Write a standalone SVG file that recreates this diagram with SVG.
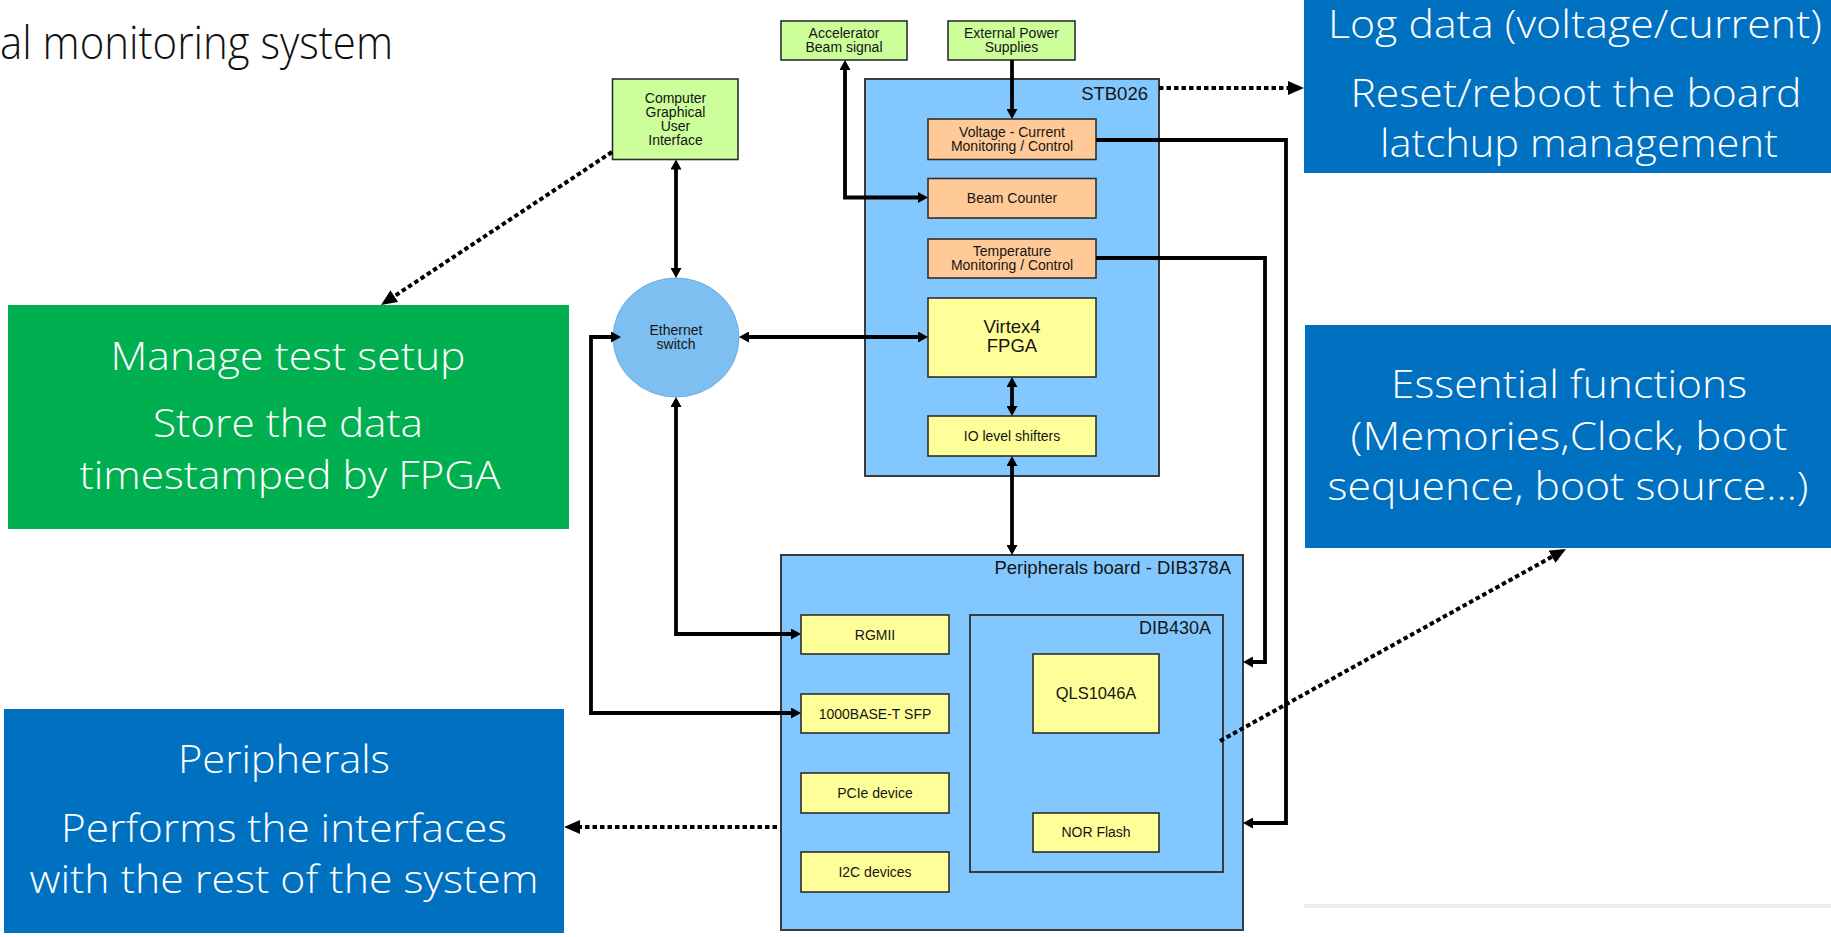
<svg xmlns="http://www.w3.org/2000/svg" width="1831" height="937" viewBox="0 0 1831 937">
  <style>
    .lbl { font-family: "Liberation Sans", Arial, sans-serif; font-size: 14px; fill: #151515; text-anchor: middle; }
    .hdr { font-family: "Liberation Sans", Arial, sans-serif; font-size: 18.5px; fill: #151515; text-anchor: end; }
    .big { font-family: "Liberation Sans", Arial, sans-serif; font-size: 18.5px; fill: #151515; text-anchor: middle; }
    .call { font-family: "Open Sans", "Liberation Sans", sans-serif; font-weight: 300; font-size: 39px; fill: #fff; text-anchor: middle; }
    .title { font-family: "Open Sans", "Liberation Sans", sans-serif; font-weight: 300; font-size: 46px; fill: #111; }
    .board { fill: #82C8FF; stroke: #3a3a3a; stroke-width: 2; }
    .sub { fill: #82C8FF; stroke: #2e2e2e; stroke-width: 1.8; }
    .yel { fill: #FFFF99; stroke: #2e2e2e; stroke-width: 1.6; }
    .org { fill: #FFCA97; stroke: #2e2e2e; stroke-width: 1.6; }
    .ext { fill: #CCFF99; stroke: #2e2e2e; stroke-width: 1.6; }
    .wire { fill: none; stroke: #000; stroke-width: 3.8; stroke-linejoin: miter; }
    .dot { fill: none; stroke: #000; stroke-width: 4; stroke-dasharray: 4.5 3; }
  </style>
  <defs>
    <marker id="ah" markerUnits="userSpaceOnUse" markerWidth="10" markerHeight="11" refX="6" refY="5.5" orient="auto-start-reverse">
      <path d="M0,0 L10,5.5 L0,11 z" fill="#000"/>
    </marker>
    <marker id="dh" markerUnits="userSpaceOnUse" markerWidth="16" markerHeight="14" refX="8" refY="7" orient="auto-start-reverse">
      <path d="M0,0 L16,7 L0,14 z" fill="#000"/>
    </marker>
  </defs>

  <rect width="1831" height="937" fill="#fff"/>

  <!-- page title -->
  <text class="title" x="0" y="59" textLength="393" lengthAdjust="spacingAndGlyphs">al monitoring system</text>

  <!-- faint slide shadow -->
  <line x1="1304" y1="906" x2="1831" y2="906" stroke="#ececec" stroke-width="4"/>

  <!-- callouts -->
  <g id="callout-log">
    <rect x="1304" y="0" width="527" height="173" fill="#0070C0"/>
    <text class="call" x="1575" y="38" textLength="494" lengthAdjust="spacingAndGlyphs">Log data (voltage/current)</text>
    <text class="call" x="1576" y="107" textLength="451" lengthAdjust="spacingAndGlyphs">Reset/reboot the board</text>
    <text class="call" x="1579" y="157" textLength="398" lengthAdjust="spacingAndGlyphs">latchup management</text>
  </g>
  <g id="callout-essential">
    <rect x="1305" y="325" width="526" height="223" fill="#0070C0"/>
    <text class="call" x="1569" y="398" textLength="356" lengthAdjust="spacingAndGlyphs">Essential functions</text>
    <text class="call" x="1569" y="450" textLength="437" lengthAdjust="spacingAndGlyphs">(Memories,Clock, boot</text>
    <text class="call" x="1568" y="500" textLength="481" lengthAdjust="spacingAndGlyphs">sequence, boot source…)</text>
  </g>
  <g id="callout-manage">
    <rect x="8" y="305" width="561" height="224" fill="#00B050"/>
    <text class="call" x="288" y="370" textLength="355" lengthAdjust="spacingAndGlyphs">Manage test setup</text>
    <text class="call" x="288" y="437" textLength="270" lengthAdjust="spacingAndGlyphs">Store the data</text>
    <text class="call" x="290" y="489" textLength="421" lengthAdjust="spacingAndGlyphs">timestamped by FPGA</text>
  </g>
  <g id="callout-peripherals">
    <rect x="4" y="709" width="560" height="224" fill="#0070C0"/>
    <text class="call" x="284" y="773" textLength="212" lengthAdjust="spacingAndGlyphs">Peripherals</text>
    <text class="call" x="284" y="842" textLength="446" lengthAdjust="spacingAndGlyphs">Performs the interfaces</text>
    <text class="call" x="284" y="893" textLength="509" lengthAdjust="spacingAndGlyphs">with the rest of the system</text>
  </g>

  <!-- boards -->
  <g id="stb026">
    <rect class="board" x="865" y="79" width="294" height="397"/>
    <text class="hdr" x="1148" y="100">STB026</text>
  </g>
  <g id="dib378a">
    <rect class="board" x="781" y="555" width="462" height="375"/>
    <text class="hdr" x="1231" y="574">Peripherals board - DIB378A</text>
  </g>
  <g id="dib430a">
    <rect class="sub" x="970" y="615" width="253" height="257"/>
    <text class="hdr" x="1211" y="634" style="font-size:18px">DIB430A</text>
  </g>

  <!-- external blocks -->
  <g id="gui">
    <rect class="ext" x="612.5" y="79" width="125.5" height="80.5"/>
    <text class="lbl" x="675.5" y="103">Computer</text>
    <text class="lbl" x="675.5" y="117">Graphical</text>
    <text class="lbl" x="675.5" y="131">User</text>
    <text class="lbl" x="675.5" y="145">Interface</text>
  </g>
  <g id="accelerator">
    <rect class="ext" x="781" y="21" width="126" height="39"/>
    <text class="lbl" x="844" y="38">Accelerator</text>
    <text class="lbl" x="844" y="52">Beam signal</text>
  </g>
  <g id="power">
    <rect class="ext" x="948" y="21" width="127" height="39"/>
    <text class="lbl" x="1011.5" y="38">External Power</text>
    <text class="lbl" x="1011.5" y="52">Supplies</text>
  </g>
  <g id="ethernet">
    <ellipse cx="676" cy="337.5" rx="63" ry="59.5" fill="#7EBFF2" stroke="#6aaee6" stroke-width="1"/>
    <text class="lbl" x="676" y="335">Ethernet</text>
    <text class="lbl" x="676" y="349">switch</text>
  </g>

  <!-- STB026 blocks -->
  <g id="vmon">
    <rect class="org" x="928" y="119" width="168" height="40.5"/>
    <text class="lbl" x="1012" y="137">Voltage - Current</text>
    <text class="lbl" x="1012" y="151">Monitoring / Control</text>
  </g>
  <g id="beam">
    <rect class="org" x="928" y="178.5" width="168" height="39.5"/>
    <text class="lbl" x="1012" y="202.5">Beam Counter</text>
  </g>
  <g id="tmon">
    <rect class="org" x="928" y="239" width="168" height="39"/>
    <text class="lbl" x="1012" y="256">Temperature</text>
    <text class="lbl" x="1012" y="270">Monitoring / Control</text>
  </g>
  <g id="fpga">
    <rect class="yel" x="928" y="298" width="168" height="79"/>
    <text class="big" x="1012" y="333">Virtex4</text>
    <text class="big" x="1012" y="352">FPGA</text>
  </g>
  <g id="io">
    <rect class="yel" x="928" y="416" width="168" height="40"/>
    <text class="lbl" x="1012" y="441">IO level shifters</text>
  </g>

  <!-- peripherals board blocks -->
  <g id="rgmii">
    <rect class="yel" x="801" y="615" width="148" height="39"/>
    <text class="lbl" x="875" y="639.5">RGMII</text>
  </g>
  <g id="sfp">
    <rect class="yel" x="801" y="694" width="148" height="39"/>
    <text class="lbl" x="875" y="718.5">1000BASE-T SFP</text>
  </g>
  <g id="pcie">
    <rect class="yel" x="801" y="773" width="148" height="40"/>
    <text class="lbl" x="875" y="798">PCIe device</text>
  </g>
  <g id="i2c">
    <rect class="yel" x="801" y="852" width="148" height="40"/>
    <text class="lbl" x="875" y="877">I2C devices</text>
  </g>
  <g id="qls">
    <rect class="yel" x="1033" y="654" width="126" height="79"/>
    <text class="lbl" x="1096" y="699" style="font-size:16.5px">QLS1046A</text>
  </g>
  <g id="nor">
    <rect class="yel" x="1033" y="813" width="126" height="39"/>
    <text class="lbl" x="1096" y="837">NOR Flash</text>
  </g>

  <!-- connectors -->
  <g id="connectors">
    <path class="wire" d="M676,163.5 V274" marker-start="url(#ah)" marker-end="url(#ah)"/>
    <path class="wire" d="M845,64 V197.5 H924" marker-start="url(#ah)" marker-end="url(#ah)"/>
    <path class="wire" d="M1012,60 V115" marker-end="url(#ah)"/>
    <path class="wire" d="M743,337 H924" marker-start="url(#ah)" marker-end="url(#ah)"/>
    <path class="wire" d="M1012,381 V412" marker-start="url(#ah)" marker-end="url(#ah)"/>
    <path class="wire" d="M1012,460 V551" marker-start="url(#ah)" marker-end="url(#ah)"/>
    <path class="wire" d="M617,337 H591 V713 H797" marker-start="url(#ah)" marker-end="url(#ah)"/>
    <path class="wire" d="M676,401 V634 H797" marker-start="url(#ah)" marker-end="url(#ah)"/>
    <path class="wire" d="M1096,140 H1286 V823 H1247" marker-end="url(#ah)"/>
    <path class="wire" d="M1096,258 H1265 V662 H1247" marker-end="url(#ah)"/>

    <path class="dot" d="M1159,88 H1296" marker-end="url(#dh)"/>
    <path class="dot" d="M612,152 L387.7,300.6" marker-end="url(#dh)"/>
    <path class="dot" d="M777,827 H572" marker-end="url(#dh)"/>
    <path class="dot" d="M1220,741 L1559,552.9" marker-end="url(#dh)"/>
  </g>
</svg>
